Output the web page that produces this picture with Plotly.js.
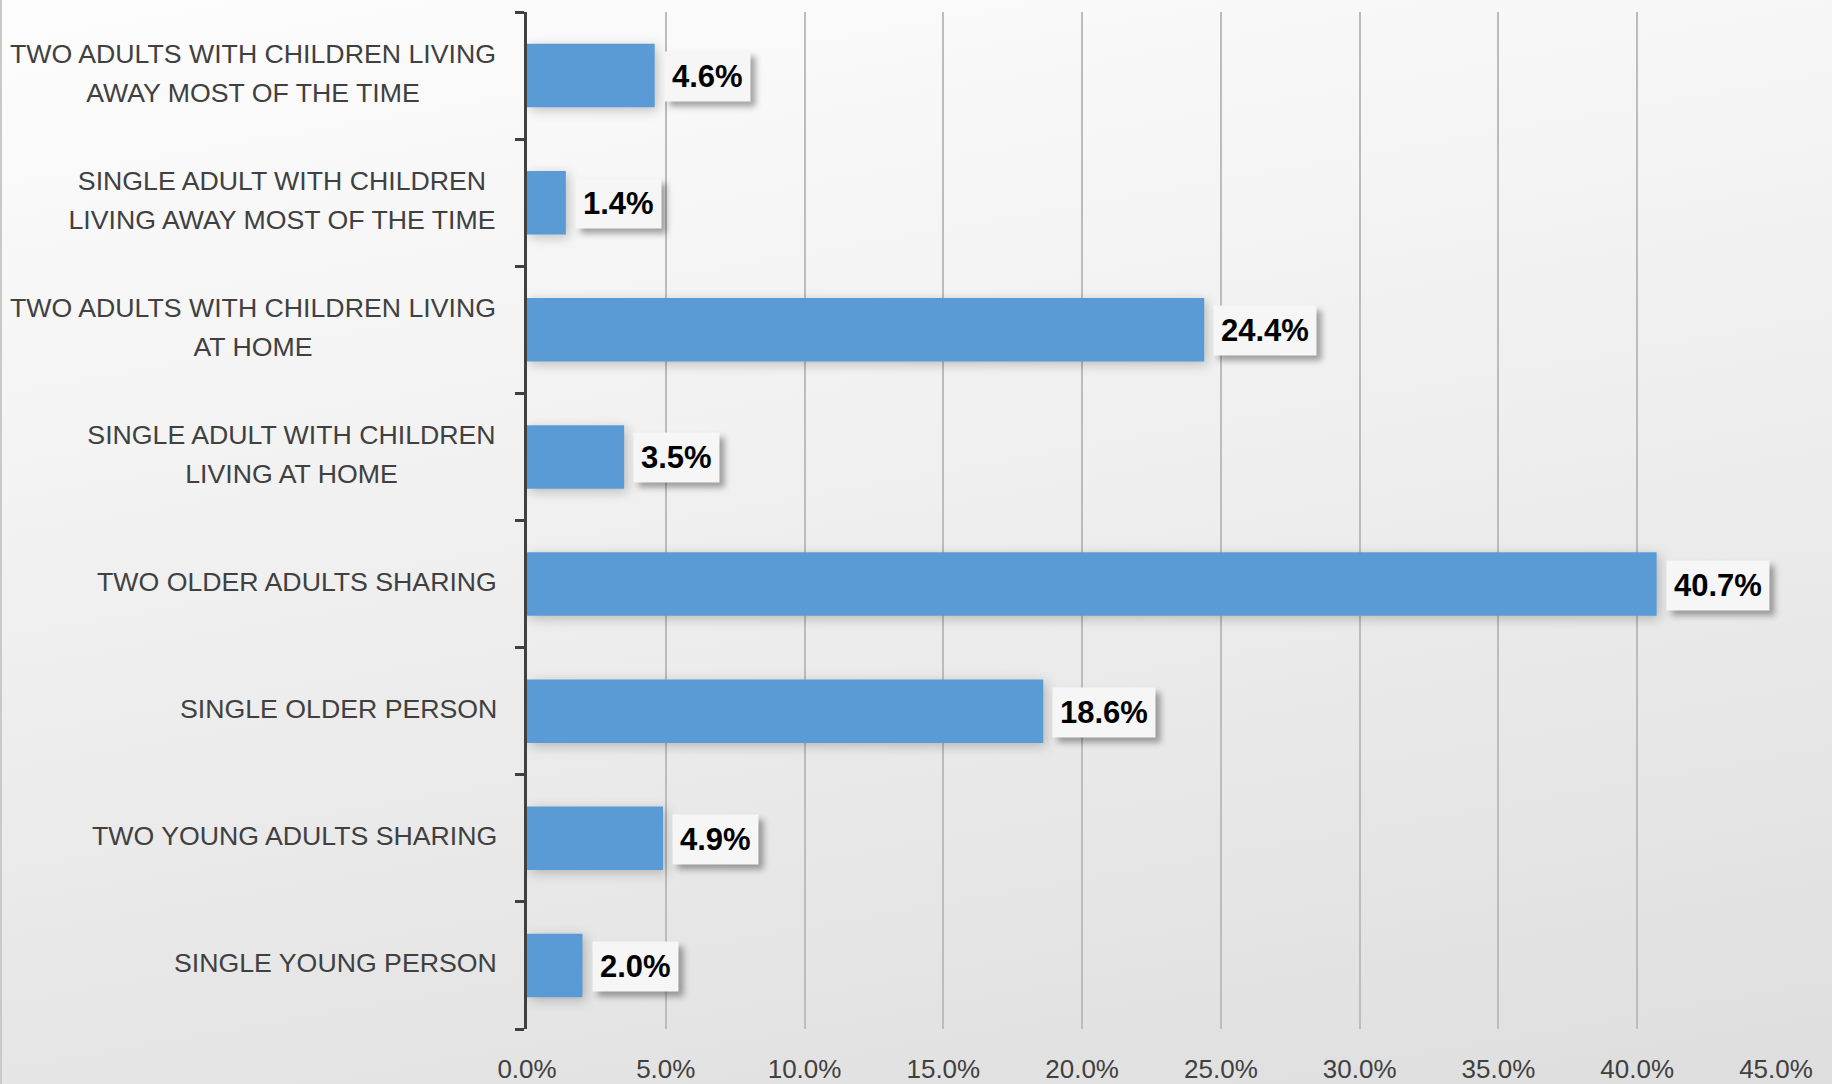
<!DOCTYPE html>
<html>
<head>
<meta charset="utf-8">
<script src="https://cdn.plot.ly/plotly-3.0.1.min.js"></script>
<style>
  html, body { margin: 0; padding: 0; }
  body {
    width: 1832px; height: 1084px; overflow: hidden;
    background: linear-gradient(170deg, #fdfdfd 0%, #f1f1f1 40%, #dedede 100%);
  }
  #chart { width: 1832px; height: 1084px; border-left: 2px solid #c9c9c9; box-sizing: border-box; }
  #chart g.annotation rect.bg { filter: drop-shadow(5px 5px 3px rgba(0,0,0,0.35)); }
  #chart g.point path { filter: drop-shadow(3px 3px 6px rgba(0,0,0,0.22)); }
</style>
</head>
<body>
<div id="chart"></div>
<script>
// Categories listed bottom to top (Plotly draws the first category at the bottom)
const categories = [
  "SINGLE YOUNG PERSON",
  "TWO YOUNG ADULTS SHARING",
  "SINGLE OLDER PERSON",
  "TWO OLDER ADULTS SHARING",
  "SINGLE ADULT WITH CHILDREN<br>LIVING AT HOME",
  "TWO ADULTS WITH CHILDREN LIVING<br>AT HOME",
  "SINGLE ADULT WITH CHILDREN<br>LIVING AWAY MOST OF THE TIME",
  "TWO ADULTS WITH CHILDREN LIVING<br>AWAY MOST OF THE TIME"
];
const values = [2.0, 4.9, 18.6, 40.7, 3.5, 24.4, 1.4, 4.6];
const tickVals = [0, 5, 10, 15, 20, 25, 30, 35, 40, 45];
const tickLabels = ["0.0%", "5.0%", "10.0%", "15.0%", "20.0%", "25.0%", "30.0%", "35.0%", "40.0%", "45.0%"];

const catIdx = categories.map((c, i) => i);

const trace = {
  type: "bar",
  orientation: "h",
  x: values,
  y: catIdx,
  marker: { color: "#5b9bd5" },
  hoverinfo: "skip"
};

const labelFont = { family: "Liberation Sans, Arial, sans-serif", size: 26.7, color: "#404040" };
const dataFont = { family: "Liberation Sans, Arial, sans-serif", size: 31, color: "#000000", weight: "bold" };

const annotations = [];
// Category labels: each line as its own text, wider line spacing
const LINE_GAP = 39;
categories.forEach((c, i) => {
  const lines = c.split("<br>");
  lines.forEach((ln, k) => {
    annotations.push({
      xref: "paper", yref: "y", x: 0, y: i,
      xanchor: "right", yanchor: "middle", xshift: -28,
      yshift: ((lines.length - 1) / 2 - k) * LINE_GAP + 2,
      text: ln, showarrow: false, align: "center", font: labelFont
    });
  });
});
// Data labels in light boxes (shadow added by CSS filter)
values.forEach((v, i) => {
  annotations.push({
    xref: "x", yref: "y", x: v, y: i,
    xanchor: "left", yanchor: "middle", xshift: 9, yshift: -1,
    text: "<b>" + v.toFixed(1) + "%</b>", showarrow: false, font: dataFont,
    bgcolor: "#f6f6f6", borderpad: 7
  });
});

const layout = {
  width: 1832, height: 1084,
  paper_bgcolor: "rgba(0,0,0,0)",
  plot_bgcolor: "rgba(0,0,0,0)",
  margin: { l: 525, r: 58, t: 12, b: 55 },
  showlegend: false,
  bargap: 0.5,
  xaxis: {
    range: [0, 45],
    tickvals: tickVals,
    ticktext: tickLabels,
    showgrid: true,
    gridcolor: "#bcbcbc",
    gridwidth: 2,
    zeroline: false,
    showline: false,
    ticks: "",
    ticklabelstandoff: 22,
    tickfont: { family: "Liberation Sans, Arial, sans-serif", size: 26, color: "#404040" },
    fixedrange: true
  },
  yaxis: {
    type: "linear",
    range: [-0.5, categories.length - 0.5],
    tickvals: catIdx.map(i => i - 0.5).concat([categories.length - 0.5]),
    showticklabels: false,
    showgrid: false,
    zeroline: false,
    showline: true,
    linecolor: "#404040",
    linewidth: 3,
    ticks: "outside",
    ticklen: 9,
    tickwidth: 3,
    tickcolor: "#404040",
    fixedrange: true
  },
  annotations: annotations
};

// Centre multi-line labels: give all lines of a label the same box width (widest line),
// then centre the text inside that box.
Plotly.newPlot("chart", [trace], layout, { displayModeBar: false, staticPlot: true }).then(gd => {
  const updates = {};
  let idx = 0;
  categories.forEach((c) => {
    const lines = c.split("<br>");
    if (lines.length > 1) {
      let maxW = 0;
      lines.forEach((ln, k) => {
        const g = gd.querySelector('g.annotation[data-index="' + (idx + k) + '"] text');
        const w = g ? g.getBBox().width : 0;
        maxW = Math.max(maxW, w);
      });
      lines.forEach((ln, k) => {
        updates["annotations[" + (idx + k) + "].width"] = Math.ceil(maxW) + 2;
        updates["annotations[" + (idx + k) + "].align"] = "center";
      });
    }
    idx += lines.length;
  });
  return Plotly.relayout(gd, updates);
});
</script>
</body>
</html>
